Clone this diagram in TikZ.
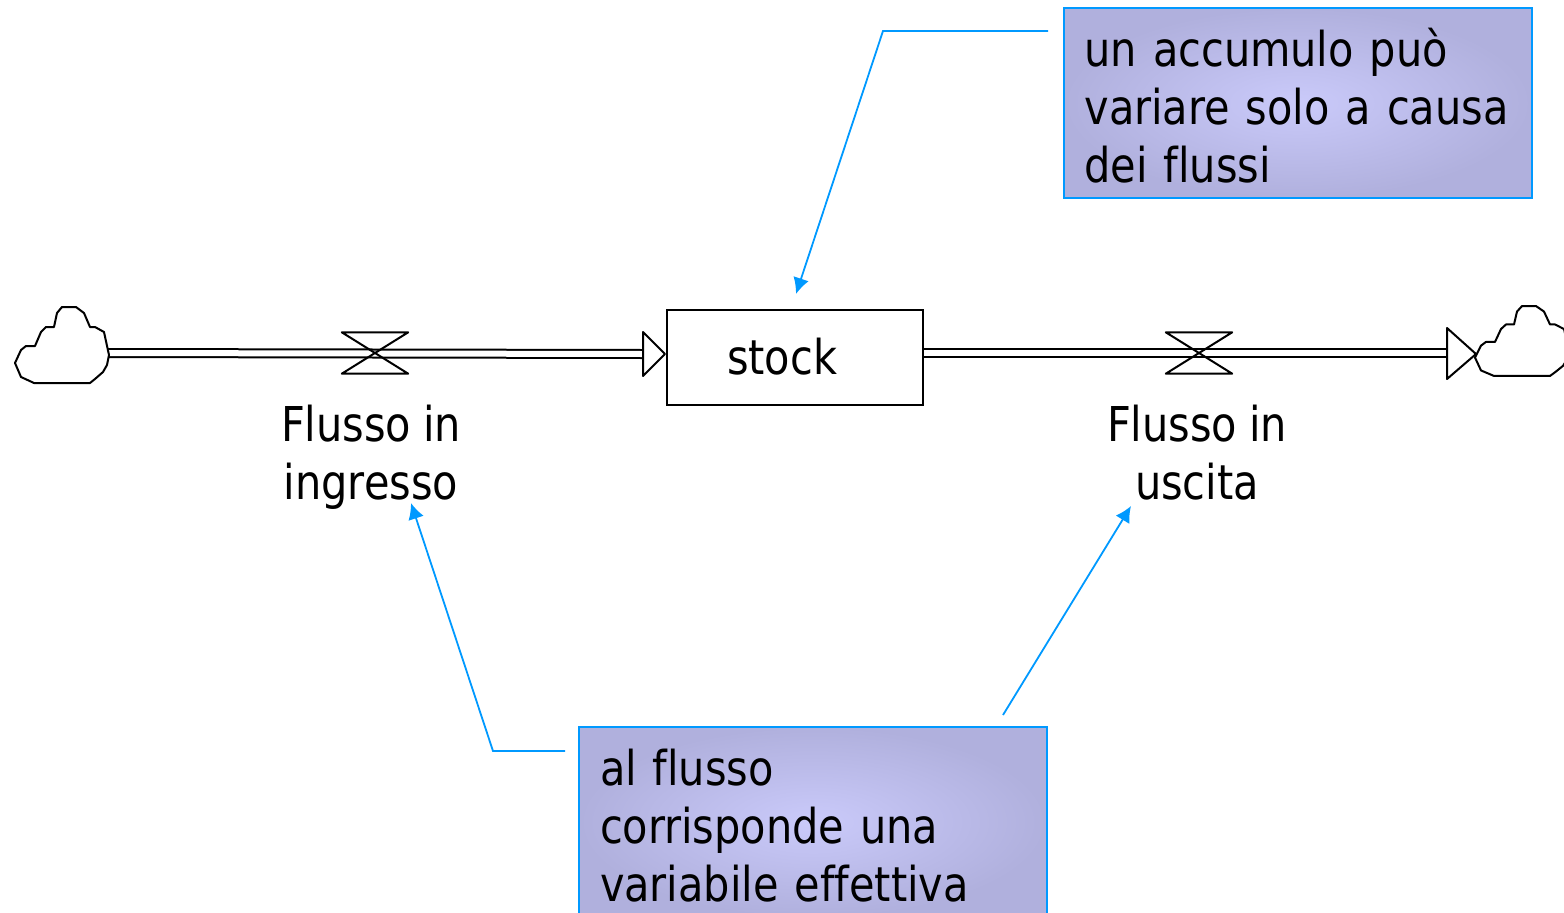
\documentclass[tikz,border=0pt]{standalone}
\usepackage{fontspec}
\setmainfont{DejaVu Sans Condensed}[FakeStretch=0.96, WordSpace=0.9, Ligatures={NoCommon}]
\usepackage{xcolor}
\usetikzlibrary{shapes.geometric, arrows, positioning, arrows.meta}

\definecolor{noteline}{HTML}{0099FF}
\definecolor{noteout}{HTML}{B0B0DD}
\definecolor{notein}{HTML}{CACAFA}

\newcommand{\drawcloud}[3]{\draw [cloudline, shift={(#1,#2)}, yscale=#3] (15,363) -- (21,350) -- (26,346) -- (35,346) -- (41,332) -- (46,327) -- (54,327) -- (57,313) -- (62,307) -- (76,307) -- (84,313) -- (90,327) -- (95,327) -- (104,332) -- (109,355) -- (107,365) -- (103,372) -- (95,379) -- (90,383) -- (34,383) -- (21,377) -- cycle;}
\newcommand{\drawvalve}[1]{\draw [cloudline, fill=none] (#1.north west) -- (#1.north east) -- (#1.south west) -- (#1.south east) -- cycle;}
\newcommand{\notestrut}{\rule{0pt}{43pt}}

\begin{document}
\begin{tikzpicture}[x=1pt, y=-1pt]
% Styles
    \tikzstyle{note} = [rectangle, draw=noteline, line width=2pt, inner color=notein, outer color=noteout, minimum width=468pt, minimum height=190pt, text width=426pt, inner xsep=21pt, inner ysep=0pt, align=left, font=\fontsize{48}{58}\selectfont]
    \tikzstyle{stockbox} = [rectangle, draw, line width=2pt, minimum width=256pt, minimum height=95pt, font=\fontsize{48}{58}\selectfont]
    \tikzstyle{valve} = [rectangle, minimum width=66pt, minimum height=41pt, inner sep=0pt]
    \tikzstyle{flowlabel} = [align=center, inner sep=0pt, font=\fontsize{48}{58}\selectfont]
    \tikzstyle{cloudline} = [line width=2pt, line join=round, fill=white]
    \tikzstyle{pipe} = [draw, line width=2pt, double, double distance=6pt]
    \tikzstyle{line} = [draw=noteline, line width=1.8pt, -{Latex[length=16pt, width=16pt]}]

    \clip (0,0) rectangle (1564,913);

    % Stock and valves
    \node [stockbox] (stock) at (795,357) {stock\hspace*{26pt}};
    \node [valve] (valvein) at (375,353) {};
    \node [valve] (valveout) at (1199,353) {};
    \node [flowlabel, below=31pt of valvein, xshift=-4pt] (labelin) {Flusso in\\ingresso};
    \node [flowlabel, below=31pt of valveout, xshift=-2pt] (labelout) {Flusso in\\uscita};

    % Notes
    \node [note] (noteaccumulo) at (1297.5,103) {\notestrut un accumulo può\\\mbox{variare solo a causa}\\dei flussi};
    \node [note] (noteflusso) at (813,822) {\notestrut al flusso\\corrisponde una\\variabile effettiva};

    % Pipes
    \coordinate (cloudin) at (107,353);
    \coordinate (tipin) at (643,354);
    \coordinate (tipout) at (1447,353);
    \path [pipe] (cloudin) -- (tipin);
    \path [pipe] (stock.east |- tipout) -- (tipout);
    \drawvalve{valvein}
    \drawvalve{valveout}

    % Clouds and arrow heads
    \drawcloud{0}{0}{1}
    \drawcloud{1460}{23.6}{0.92}
    \draw [cloudline] (643,332) -- (665,354) -- (643,376) -- cycle;
    \draw [cloudline] (1447,328) -- (1476,354) -- (1447,379) -- cycle;

    % Callouts
    \coordinate (startaccumulo) at (1048,31);
    \coordinate (startflusso) at (565,751);
    \coordinate (startuscita) at (1003,715);
    \coordinate (endingresso) at (411,503);
    \coordinate (enduscita) at (1131,506);
    \path [line] (startaccumulo) -- (883,31) -- (796,294);
    \path [line] (startflusso) -- (493,751) -- (endingresso);
    \path [line] (startuscita) -- (enduscita);
\end{tikzpicture}
\end{document}
